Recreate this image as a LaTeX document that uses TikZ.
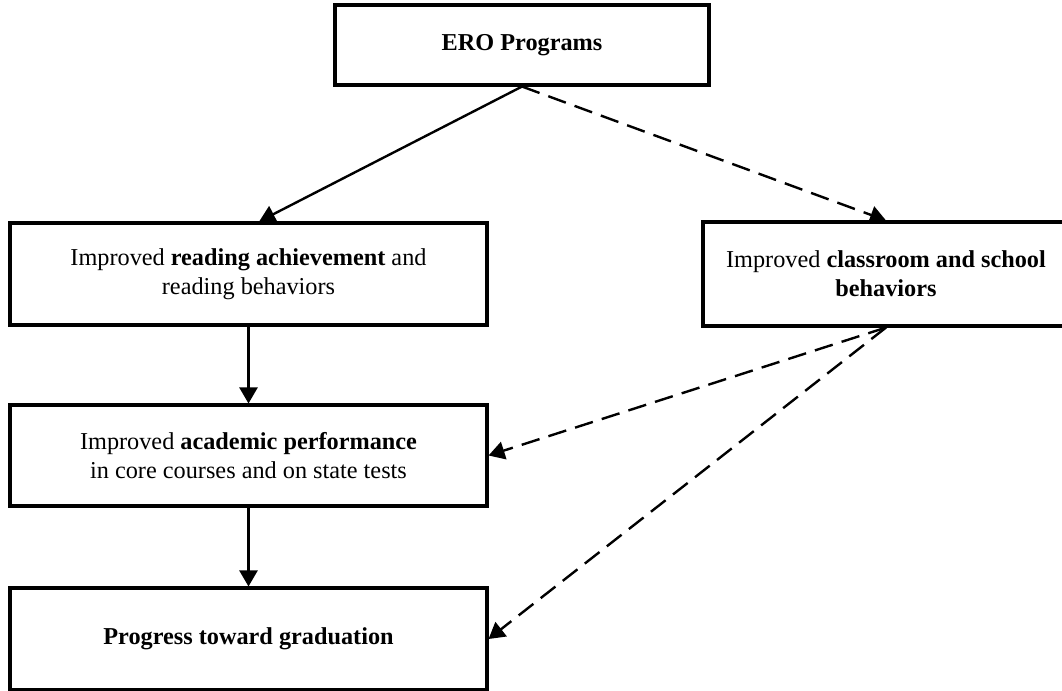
\documentclass[tikz,border=0pt]{standalone}
\usepackage{fontspec}
\setmainfont{Liberation Serif}
\usetikzlibrary{arrows.meta}

\begin{document}
\begin{tikzpicture}
	 [x=0.75pt,y=-0.75pt,
	 every node/.style={draw,line width=2.3pt,align=center,inner sep=0pt,
	   font=\fontsize{18.2}{21.75}\selectfont},
	 arr/.style={line width=1.8pt,-{Triangle[length=12pt,width=13.5pt]}},
	 darr/.style={arr,dash pattern=on 14pt off 7pt}]

  \useasboundingbox (0,0) rectangle (1062,690);

  \node (ero) at (522,45) [minimum width=280.5pt,minimum height=60pt] {\textbf{ERO Programs}};
    \node (read) at (248.5,274) [minimum width=357.75pt,minimum height=76.5pt]
      {Improved \textbf{reading achievement} and\\reading behaviors};
    \node (cls) at (886,274) [minimum width=274.5pt,minimum height=78pt]
      {Improved \textbf{classroom and school}\\\textbf{behaviors}};
    \node (acad) at (248.5,455.5) [minimum width=357.75pt,minimum height=75.75pt]
      {Improved \textbf{academic performance}\\in core courses and on state tests};
    \node (prog) at (248.5,639) [minimum width=357.75pt,minimum height=76.5pt]
      {\textbf{Progress toward graduation}};

    \draw[arr] (ero.south) -- ([xshift=8pt]read.north);
    \foreach \from/\to in {read.south/acad.north,acad.south/prog.north}
    \draw[arr] (\from) -- (\to);

    \foreach \from/\to in {ero.south/cls.north,cls.south/acad.east,cls.south/prog.east}
    \draw[darr] (\from) -- (\to);

\end{tikzpicture}
\end{document}
